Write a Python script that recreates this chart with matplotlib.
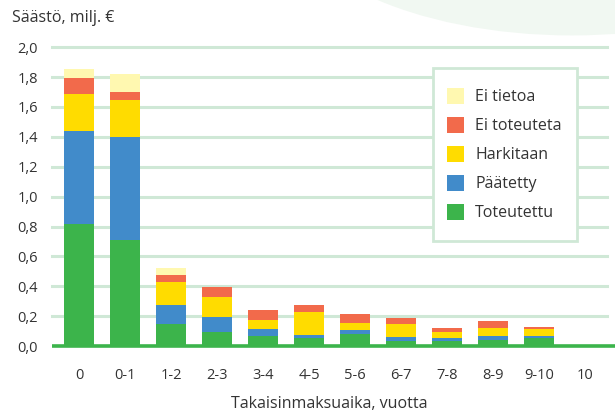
import numpy as np
import matplotlib
matplotlib.use("Agg")
import matplotlib.pyplot as plt
from matplotlib.patches import Ellipse, Patch, Rectangle

plt.rcParams['font.family'] = ['Open Sans', 'DejaVu Sans']

# payback period categories
categories = ["0", "0-1", "1-2", "2-3", "3-4", "4-5", "5-6", "6-7", "7-8", "8-9", "9-10", "10"]

# savings, million euro (segment heights)
toteutettu  = [0.816, 0.711, 0.148, 0.094, 0.067, 0.054, 0.080, 0.033, 0.033, 0.042, 0.056, 0.0]
paatetty    = [0.622, 0.689, 0.126, 0.100, 0.047, 0.020, 0.027, 0.027, 0.021, 0.025, 0.011, 0.0]
harkitaan   = [0.248, 0.246, 0.154, 0.134, 0.060, 0.153, 0.047, 0.087, 0.040, 0.053, 0.047, 0.0]
ei_toteut   = [0.107, 0.053, 0.047, 0.067, 0.067, 0.047, 0.060, 0.040, 0.026, 0.047, 0.013, 0.0]
ei_tietoa   = [0.060, 0.121, 0.049, 0.0, 0.0, 0.0, 0.0, 0.0, 0.0, 0.0, 0.0, 0.0]

series = [
    ("Toteutettu", toteutettu, "#3cb44b"),
    ("Päätetty", paatetty, "#418bca"),
    ("Harkitaan", harkitaan, "#ffdc00"),
    ("Ei toteuteta", ei_toteut, "#f26a4b"),
    ("Ei tietoa", ei_tietoa, "#fff8b0"),
]

grid_col = "#cfe8d6"
text_col = "#333333"

fig = plt.figure(figsize=(6.15, 4.17), dpi=100)

#decorative arc top right
fig.patches.append(Ellipse((0.93, 1.25), 0.95, 0.67, transform=fig.transFigure,
                           facecolor="#f1f8f2", edgecolor="none", zorder=-5))

ax = fig.add_axes([0.0846, 0.170, 0.9024, 0.717])
ax.patch.set_alpha(0)

x = np.arange(len(categories))
bottom = np.zeros(len(categories))
for name, vals, col in series:
    ax.bar(x, vals, width=0.65, bottom=bottom, color=col, label=name, zorder=3)
    bottom += np.array(vals)

ax.set_xlim(-0.587, len(categories) - 1 + 0.48)
ax.set_ylim(0, 2.0)
yt = np.arange(0, 2.01, 0.2)
for v in yt[1:]:
    ax.axhline(v, color=grid_col, lw=2.2, zorder=1, clip_on=False)
ax.plot([-0.587, len(categories) - 1 + 0.65], [0, 0], color="#3cb44b", lw=2.6,
        zorder=4, clip_on=False, solid_capstyle="butt")

ax.set_yticks(yt)
ax.set_yticklabels([("%.1f" % v).replace(".", ",") for v in yt], fontsize=10.5, color=text_col)
ax.set_xticks(x)
ax.set_xticklabels(categories, fontsize=10.5, color=text_col)
ax.tick_params(length=0, axis="y", pad=10)
ax.tick_params(length=0, axis="x", pad=16)
for s in ax.spines.values():
    s.set_visible(False)

ax.set_xlabel("Takaisinmaksuaika, vuotta", fontsize=11.5, color=text_col, labelpad=9)
fig.text(0.02, 0.957, "Säästö, milj. €", fontsize=11.5, color=text_col, va="center")

#legend box drawn separately
box = Rectangle((433 / 615, 1 - 241 / 417), 144 / 615, 173 / 417, transform=fig.transFigure,
                facecolor="white", edgecolor=grid_col, lw=2.0, zorder=8, clip_on=False)
ax.add_patch(box)

handles = [Patch(facecolor=c, edgecolor="none") for _, _, c in series][::-1]
labels = [n for n, _, _ in series][::-1]
leg = ax.legend(handles, labels, loc="upper left", bbox_to_anchor=(433 / 615, 1 - 74 / 417),
                bbox_transform=fig.transFigure, fontsize=11.5, frameon=False,
                handlelength=1.1, handleheight=1.2, handletextpad=0.7, labelspacing=0.72,
                borderpad=0.85, borderaxespad=0)
for t in leg.get_texts():
    t.set_color(text_col)
leg.set_zorder(10)

fig.savefig("out.png", dpi=100)
